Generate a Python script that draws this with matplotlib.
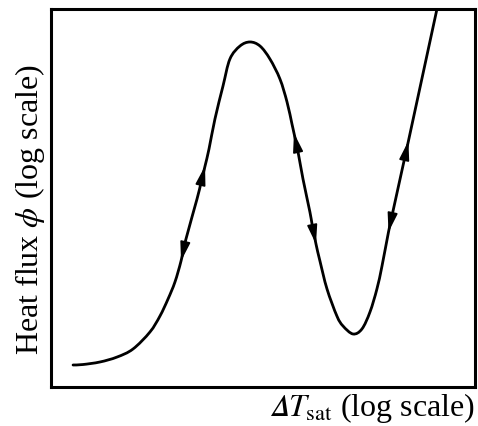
import numpy as np
import matplotlib
matplotlib.use("Agg")
import matplotlib.pyplot as plt
from matplotlib.patches import ArrowStyle, PathPatch
from matplotlib.path import Path

plt.rcParams["font.family"] = ["Liberation Serif", "DejaVu Serif"]
plt.rcParams["mathtext.fontset"] = "stix"

# Boiling curve, in decades: log10 of wall superheat and log10 of heat flux
log_dT = [0.156, 0.226, 0.347, 0.467, 0.580, 0.700, 0.771, 0.828, 0.877, 0.920,
          0.955, 1.033, 1.061, 1.090, 1.118, 1.160, 1.217, 1.266, 1.337, 1.408,
          1.479, 1.549, 1.620, 1.670, 1.705, 1.719, 1.748, 1.783, 1.832, 1.847,
          1.875, 1.903, 1.953, 2.023, 2.066, 2.137, 2.200, 2.257, 2.306, 2.342,
          2.388, 2.420, 2.501, 2.529, 2.731]
log_phi = [3.233, 3.238, 3.265, 3.317, 3.402, 3.582, 3.751, 3.931, 4.111, 4.333,
           4.566, 4.989, 5.159, 5.339, 5.519, 5.836, 6.185, 6.471, 6.608, 6.651,
           6.608, 6.471, 6.259, 6.016, 5.783, 5.688, 5.487, 5.201, 4.852, 4.725,
           4.513, 4.333, 4.037, 3.751, 3.646, 3.561, 3.614, 3.794, 4.037, 4.280,
           4.640, 4.862, 5.413, 5.603, 7.000]

# Direction arrows: (index of the arrow tip on the curve, index of its tail)
arrows = [(9, 10), (13, 12), (25, 26), (30, 29), (40, 41), (43, 42)]

x_range = (0.0, 3.0)
y_range = (3.0, 7.0)

fig = plt.figure(figsize=(4.78, 4.27), dpi=100)
ax = fig.add_axes([0.1067, 0.0913, 0.8870, 0.8853])
ax.set_xlim(*x_range)
ax.set_ylim(*y_range)


def smooth_path(xs, ys):
    """Cubic Bezier path through the points (Catmull-Rom tangents)."""
    p = np.column_stack([xs, ys])
    ext = np.vstack([p[0], p, p[-1]])
    verts = [p[0]]
    codes = [Path.MOVETO]
    for i in range(len(p) - 1):
        p0, p1, p2, p3 = ext[i], ext[i + 1], ext[i + 2], ext[i + 3]
        verts += [p1 + (p2 - p0) / 6.0, p2 - (p3 - p1) / 6.0, p2]
        codes += [Path.CURVE4] * 3
    return Path(verts, codes)


ax.add_patch(PathPatch(smooth_path(log_dT, log_phi), facecolor="none",
                       edgecolor="black", lw=2.0, joinstyle="round",
                       capstyle="round"))

head = ArrowStyle("-|>", head_length=0.65, head_width=0.17)
for tip, tail in arrows:
    ax.annotate("", xy=(log_dT[tip], log_phi[tip]),
                xytext=(log_dT[tail], log_phi[tail]),
                arrowprops=dict(arrowstyle=head, color="black", lw=1.2,
                                mutation_scale=18, shrinkA=0, shrinkB=0))

ax.set_xticks([])
ax.set_yticks([])
for spine in ax.spines.values():
    spine.set_linewidth(2.2)
    spine.set_color("black")

fig.text(0.063, 0.508, r"Heat flux $\phi$ (log scale)", rotation=90,
         ha="center", va="center", fontsize=23)
fig.text(0.9937, 0.026, "$\U0001D6E5T_{\\mathrm{sat}}$ (log scale)",
         ha="right", va="baseline", fontsize=23)

fig.savefig("out.png", dpi=100)
